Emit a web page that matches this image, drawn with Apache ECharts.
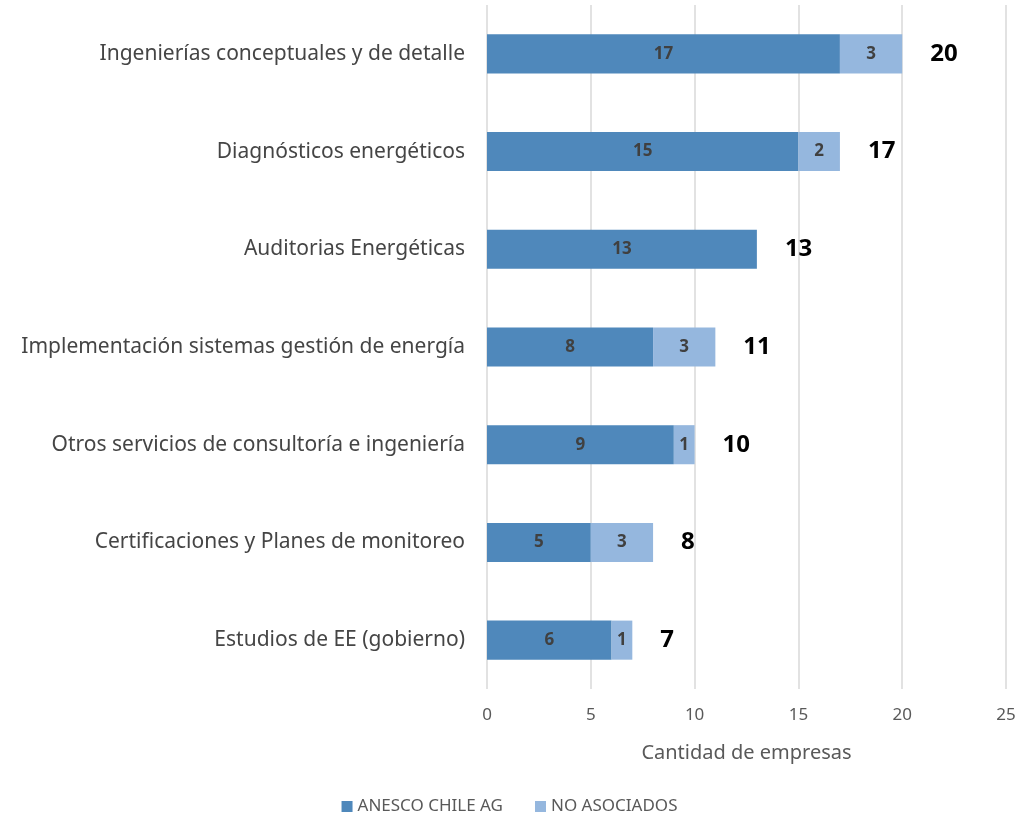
<!DOCTYPE html>
<html>
<head>
<meta charset="utf-8">
<script src="https://cdn.jsdelivr.net/npm/echarts@6/dist/echarts.min.js"></script>
<style>
    html, body { margin: 0; padding: 0; background: #fff; }
    #chart { width: 1019px; height: 820px; }
</style>
</head>
<body>
<div id="chart"></div>
<script>
    // categorias (de arriba hacia abajo)
    const categories = [
        'Ingenierías conceptuales y de detalle',
        'Diagnósticos energéticos',
        'Auditorias Energéticas',
        'Implementación sistemas gestión de energía',
        'Otros servicios de consultoría e ingeniería',
        'Certificaciones y Planes de monitoreo',
        'Estudios de EE (gobierno)'
    ]
    const anesco = [17, 15, 13, 8, 9, 5, 6]
    const noAsociados = [3, 2, 0, 3, 1, 3, 1]
    const totals = [20, 17, 13, 11, 10, 8, 7]
    const xTicks = [0, 5, 10, 15, 20, 25]

    const font = 'Noto Sans'
    const chart = echarts.init(document.getElementById('chart'))

    const innerLabel = {
        show: true,
        position: 'inside',
        color: '#404040',
        fontFamily: font,
        fontWeight: 'bold',
        fontSize: 17,
        formatter: p => (p.value ? p.value : '')
    }

    chart.setOption({
        animation: false,
        textStyle: { fontFamily: font },
        legend: {
            data: ['ANESCO CHILE AG', 'NO ASOCIADOS'],
            bottom: 0,
            left: 'center',
            itemWidth: 11,
            itemHeight: 11,
            itemGap: 32,
            icon: 'rect',
            textStyle: { color: '#595959', fontSize: 17, fontFamily: font }
        },
        grid: { left: 487, right: 13, top: 5, bottom: 131 },
        xAxis: {
            type: 'value',
            min: 0,
            max: 25,
            interval: 5,
            name: 'Cantidad de empresas',
            nameLocation: 'middle',
            nameGap: 54,
            nameTextStyle: { color: '#595959', fontSize: 20, fontFamily: font },
            axisLine: { show: false },
            axisTick: { show: false },
            axisLabel: {
                color: '#595959',
                fontSize: 17,
                margin: 18,
                formatter: v => (xTicks.includes(v) ? String(v) : '')
            },
            splitLine: { lineStyle: { color: '#d9d9d9', width: 1.5 } }
        },
        yAxis: {
            type: 'category',
            inverse: true,
            data: categories,
            axisLine: { show: false },
            axisTick: { show: false },
            axisLabel: { color: '#454545', fontSize: 21, margin: 22, fontFamily: font }
        },
        series: [
            {
                name: 'ANESCO CHILE AG',
                type: 'bar',
                stack: 'total',
                barWidth: '40%',
                data: anesco,
                itemStyle: { color: '#4f88bb' },
                label: innerLabel
            },
            {
                name: 'NO ASOCIADOS',
                type: 'bar',
                stack: 'total',
                data: noAsociados,
                itemStyle: { color: '#95b7de' },
                label: innerLabel
            },
            {
                // totales, barra transparente solo para la etiqueta
                name: 'Total',
                type: 'bar',
                barWidth: '40%',
                barGap: '-100%',
                data: totals,
                silent: true,
                z: 1,
                itemStyle: { color: 'rgba(0,0,0,0)' },
                label: {
                    show: true,
                    position: 'right',
                    distance: 28,
                    color: '#000',
                    fontFamily: font,
                    fontWeight: 'bold',
                    fontSize: 24
                }
            }
        ]
    })
</script>
</body>
</html>
